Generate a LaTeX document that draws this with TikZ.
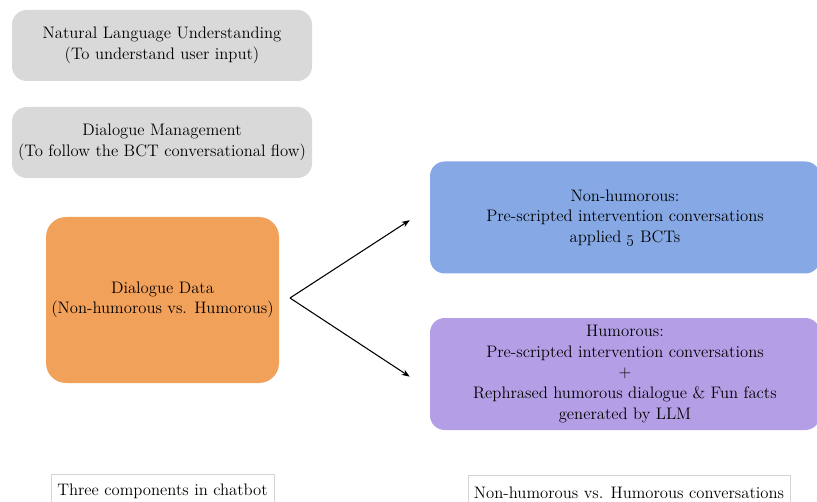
\documentclass[tikz,border=0pt]{standalone}
\usetikzlibrary{arrows.meta,positioning}

\definecolor{compgray}{RGB}{217,217,217}
\definecolor{dataorange}{RGB}{242,161,91}
\definecolor{nonhumblue}{RGB}{134,169,230}
\definecolor{humpurple}{RGB}{180,159,230}
\definecolor{capgray}{RGB}{212,212,212}

\begin{document}
\begin{tikzpicture}[x=0.75pt,y=-0.75pt,
  every node/.style={font=\fontsize{12.5}{15.4}\selectfont, align=center, text=black},
  comp/.style={fill=compgray, rounded corners=11pt, minimum width=225pt, minimum height=53.25pt},
  convbox/.style={rounded corners=11pt, minimum width=292.5pt, minimum height=84pt},
  caption/.style={draw=capgray, line width=0.6pt, minimum height=25.5pt, anchor=north}]
\useasboundingbox (0,0) rectangle (817,502);
\clip (0,0) rectangle (817,502);

% components of the chatbot
\node[comp] (nlu) at (162,45.5) {Natural Language Understanding\\(To understand user input)};
\node[comp] (dm) at (162,142.5) {Dialogue Management\\(To follow the BCT conversational flow)};
\node[fill=dataorange, rounded corners=15pt, minimum width=174.75pt, minimum height=124.5pt]
  (data) at (162.5,300) {Dialogue Data\\(Non-humorous vs. Humorous)};

% two conversation styles
\node[convbox, fill=nonhumblue] (nonhum) at (625,217.5)
  {Non-humorous:\\Pre-scripted intervention conversations\\applied \oldstylenums{5} BCTs};
\node[convbox, fill=humpurple] (hum) at (625,374)
  {Humorous:\\Pre-scripted intervention conversations\\+\\Rephrased humorous dialogue \& Fun facts\\generated by LLM};

% branching arrows
\coordinate (fork) at (290,298);
\draw[-{Stealth[length=6pt,width=4.5pt]}, line width=0.8pt] (fork) -- ([xshift=-15pt,yshift=-2pt]nonhum.west);
\draw[-{Stealth[length=6pt,width=4.5pt]}, line width=0.8pt] (fork) -- ([xshift=-15pt,yshift=-2pt]hum.west);

% captions
\node[caption, minimum width=167.25pt] (leftcap) at (162.5,474) {Three components in chatbot};
\node[caption, minimum width=241.5pt] (rightcap) at (629,475) {Non-humorous vs. Humorous conversations};
\end{tikzpicture}
\end{document}
